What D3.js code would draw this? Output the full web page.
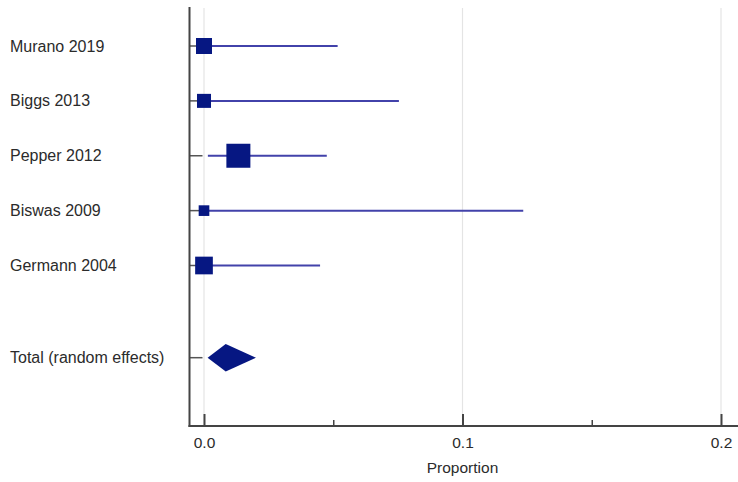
<!DOCTYPE html>
<html>
<head>
<meta charset="utf-8">
<script src="https://cdn.jsdelivr.net/npm/d3@7/dist/d3.min.js"></script>
<style>
  html, body { margin: 0; padding: 0; background: #fff; }
  svg { display: block; font-family: "Liberation Sans", Arial, sans-serif; }
</style>
</head>
<body>
<svg id="chart" width="738" height="482"></svg>
<script>
// ---- data ----
const studies   = ["Murano 2019", "Biggs 2013", "Pepper 2012", "Biswas 2009", "Germann 2004"];
const estimates = [0.0, 0.0, 0.0133, 0.0, 0.0];
const lowerCI   = [0.0, 0.0, 0.0015, 0.0, 0.0];
const upperCI   = [0.0517, 0.0754, 0.0475, 0.1235, 0.0449];
const weights   = [17.6, 13.5, 39.6, 7.8, 21.5];
const totalLabel = "Total (random effects)";
const totalEst  = 0.0084;
const totalLow  = 0.0014;
const totalHigh = 0.0201;
const majorTicks = [0, 0.1, 0.2];
const minorTicks = [0.05, 0.15];
const xTitle = "Proportion";

// ---- layout ----
const W = 738, H = 482;
const axisX = 189.5, axisY = 426, axisTop = 7;
const svg = d3.select("#chart");

const x = d3.scaleLinear().domain([0, 0.2]).range([204, 721]);
const totalIndex = studies.length + 0.68;
const y = d3.scaleLinear().domain([0, studies.length - 1]).range([46, 265.5]);
const size = d3.scaleSqrt().domain([0, d3.max(weights)]).range([0, 24]);

const navy = "#061782";
const lineBlue = "#4242aa";

// gridlines
svg.append("g").selectAll("line").data(majorTicks).join("line")
  .attr("x1", d => x(d)).attr("x2", d => x(d))
  .attr("y1", 8).attr("y2", axisY)
  .attr("stroke", "#e4e4e4").attr("stroke-width", 1.2);

// y ticks (inside)
const rowY = studies.map((s, i) => y(i)).concat([y(totalIndex)]);
svg.append("g").selectAll("line").data(rowY).join("line")
  .attr("x1", axisX).attr("x2", axisX + 13)
  .attr("y1", d => d).attr("y2", d => d)
  .attr("stroke", "#555").attr("stroke-width", 1.5);

// row labels
svg.append("g").selectAll("text").data(studies.concat([totalLabel])).join("text")
  .attr("x", 10).attr("y", (d, i) => rowY[i])
  .attr("dy", "0.35em")
  .attr("font-size", 16).attr("fill", "#2b2b2b")
  .text(d => d);

// CI lines
svg.append("g").selectAll("line").data(studies).join("line")
  .attr("x1", (d, i) => x(lowerCI[i])).attr("x2", (d, i) => x(upperCI[i]))
  .attr("y1", (d, i) => y(i)).attr("y2", (d, i) => y(i))
  .attr("stroke", lineBlue).attr("stroke-width", 2);

// boxes
svg.append("g").selectAll("rect").data(studies).join("rect")
  .attr("x", (d, i) => x(estimates[i]) - size(weights[i]) / 2)
  .attr("y", (d, i) => y(i) - size(weights[i]) / 2)
  .attr("width", (d, i) => size(weights[i]))
  .attr("height", (d, i) => size(weights[i]))
  .attr("fill", navy);

// diamond
const ty = y(totalIndex), dh = 13.8;
svg.append("path")
  .attr("d", d3.line()([[x(totalLow), ty], [x(totalEst), ty - dh], [x(totalHigh), ty], [x(totalEst), ty + dh]]) + "Z")
  .attr("fill", navy);

// axes lines
svg.append("line").attr("x1", axisX).attr("x2", axisX).attr("y1", axisTop).attr("y2", axisY + 1)
  .attr("stroke", "#444").attr("stroke-width", 2);
svg.append("line").attr("x1", axisX - 1).attr("x2", W).attr("y1", axisY).attr("y2", axisY)
  .attr("stroke", "#444").attr("stroke-width", 2);

// bottom axis ticks
const xAxis = d3.axisBottom(x).tickValues(majorTicks).tickSize(-12).tickPadding(22)
  .tickFormat(d3.format(".1f"));
const gx = svg.append("g").attr("transform", `translate(0,${axisY})`).call(xAxis);
gx.select(".domain").remove();
gx.selectAll(".tick line").attr("stroke", "#444").attr("stroke-width", 2);
gx.selectAll(".tick text").attr("font-size", 15.5).attr("fill", "#2b2b2b")
  .attr("font-family", "Liberation Sans, Arial, sans-serif").attr("dy", "0");

const gm = svg.append("g").attr("transform", `translate(0,${axisY})`)
  .call(d3.axisBottom(x).tickValues(minorTicks).tickSize(-6).tickFormat(""));
gm.select(".domain").remove();
gm.selectAll(".tick line").attr("stroke", "#444").attr("stroke-width", 1.5);

// x title
svg.append("text").attr("x", x(0.1)).attr("y", 473)
  .attr("text-anchor", "middle").attr("font-size", 15.5).attr("fill", "#2b2b2b")
  .text(xTitle);
</script>
</body>
</html>
